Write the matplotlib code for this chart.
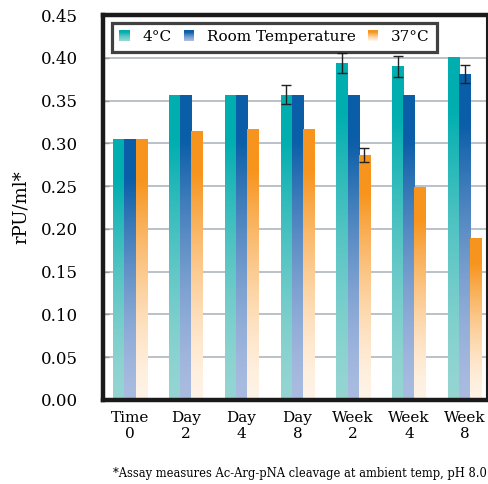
import numpy as np
import matplotlib
matplotlib.use("Agg")
import matplotlib.pyplot as plt
from matplotlib.patches import Rectangle, Patch
from matplotlib.legend_handler import HandlerBase
from matplotlib.colors import to_rgb

plt.rcParams['font.family'] = 'DejaVu Serif'

# data
timepoints = ['Time\n0', 'Day\n2', 'Day\n4', 'Day\n8', 'Week\n2', 'Week\n4', 'Week\n8']
series = ['4°C', 'Room Temperature', '37°C']
cold = [0.305, 0.357, 0.357, 0.357, 0.394, 0.390, 0.401]
room = [0.305, 0.357, 0.357, 0.357, 0.357, 0.357, 0.381]
warm = [0.305, 0.314, 0.317, 0.317, 0.286, 0.249, 0.189]
cold_err = [0, 0, 0, 0.011, 0.012, 0.012, 0]
room_err = [0, 0, 0, 0, 0, 0, 0.011]
warm_err = [0, 0, 0, 0, 0.008, 0, 0]

tops = ['#00aeb0', '#0b5ea8', '#f7941d']
bottoms = ['#94d5d2', '#a9bbe0', '#fff3e6']


def grad_colors(top, bot, n=64):
    t = np.array(to_rgb(top))
    b = np.array(to_rgb(bot))
    f = np.linspace(0, 1, n)
    m = np.clip(f / 0.85, 0, 1) ** 1.5
    return b[None, :] + m[:, None] * (t - b)[None, :]


class GradHandler(HandlerBase):
    def __init__(self, top, bot):
        super().__init__()
        self.top, self.bot = top, bot

    def create_artists(self, legend, orig_handle, xdescent, ydescent,
                       width, height, fontsize, trans):
        n = 12
        cols = grad_colors(self.top, self.bot, n)
        arts = []
        for i in range(n):
            r = Rectangle((-xdescent, -ydescent + i * height / n), width,
                          height / n + 0.3, facecolor=cols[i], edgecolor='none',
                          transform=trans)
            arts.append(r)
        return arts


fig = plt.figure(figsize=(4.89, 4.84), dpi=100)
ax = fig.add_axes([103 / 489, 84 / 484, 384 / 489, 385 / 484])

x = np.arange(len(timepoints))
w = 0.2
vals = [cold, room, warm]
errs = [cold_err, room_err, warm_err]

for k in range(3):
    pos = x + (k - 1) * w
    bars = ax.bar(pos, vals[k], w, color='none', zorder=2)
    cols = grad_colors(tops[k], bottoms[k])
    img = cols[:, None, :]
    for b in bars:
        x0, y0 = b.get_x(), b.get_y()
        im = ax.imshow(img, extent=(x0, x0 + b.get_width(), y0, y0 + b.get_height()),
                       origin='lower', aspect='auto', zorder=2, interpolation='bilinear')
        im.set_clip_path(b)
    e = np.array(errs[k])
    mask = e > 0
    ax.errorbar(pos[mask], np.array(vals[k])[mask], yerr=e[mask], fmt='none',
                ecolor='#222222', elinewidth=1, capsize=3.5, capthick=1, zorder=3)

ax.set_xlim(-0.484, 6.40)
ax.set_ylim(0, 0.45)
ax.set_yticks(np.arange(0, 0.451, 0.05))
ax.set_yticklabels([f'{v:.2f}' for v in np.arange(0, 0.451, 0.05)], fontsize=12)
ax.set_xticks(x)
ax.set_xticklabels(timepoints, fontsize=11, linespacing=1.15)
ax.tick_params(axis='y', direction='in', length=4, width=1, color='#999999', pad=18)
ax.tick_params(axis='x', length=0, pad=8)
ax.yaxis.grid(True, color='#b4bcc4', linewidth=1.3, zorder=0)
ax.set_axisbelow(True)
for s in ['left', 'bottom', 'top']:
    ax.spines[s].set_linewidth(3.2)
    ax.spines[s].set_color('#1a1a1a')
ax.spines['right'].set_linewidth(1.5)
ax.spines['right'].set_color('#1a1a1a')

ax.set_ylabel('rPU/ml*', fontsize=13, labelpad=8)

handles = [Patch() for _ in series]
leg = ax.legend(handles, series, loc='upper left', ncol=3, mode='expand',
                bbox_to_anchor=(0.023, 0.86, 0.846, 0.12), fontsize=11,
                frameon=True, fancybox=False, handlelength=0.7, handleheight=0.7,
                handletextpad=0.8, borderaxespad=0, borderpad=0.5,
                handler_map={h: GradHandler(tops[i], bottoms[i]) for i, h in enumerate(handles)})
leg.get_frame().set_edgecolor('#111111')
leg.get_frame().set_linewidth(2.3)
leg.set_zorder(5)

fig.text(487 / 489, 4 / 484, '*Assay measures Ac-Arg-pNA cleavage at ambient temp, pH 8.0',
         ha='right', va='bottom', fontsize=8.3)

fig.savefig('out.png', dpi=100)
